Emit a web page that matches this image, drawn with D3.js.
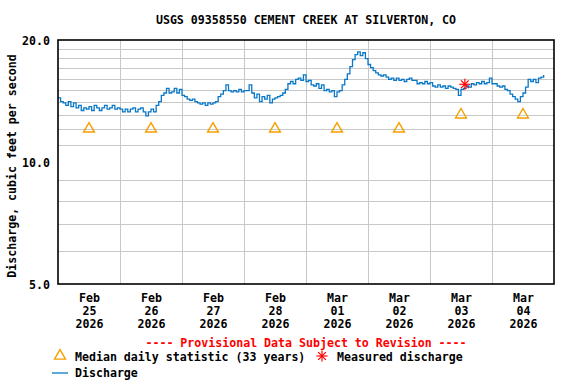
<!DOCTYPE html>
<html>
<head>
<meta charset="utf-8">
<title>USGS 09358550</title>
<style>
  body { margin: 0; background: #fff; }
  svg text { font-family: "DejaVu Sans Mono", monospace; font-weight: bold; font-size: 11.6px; fill: #000; }
  .grid line { stroke: #c8c8c8; stroke-width: 1; shape-rendering: crispEdges; }
</style>
</head>
<body>
<script src="https://cdn.jsdelivr.net/npm/d3@7"></script>
<script>
// DATA
var title = "USGS 09358550 CEMENT CREEK AT SILVERTON, CO";
var startDay = new Date(2026, 1, 25);
var endDay = new Date(2026, 2, 5);
var dayLabels = [["Feb", "25", "2026"], ["Feb", "26", "2026"], ["Feb", "27", "2026"], ["Feb", "28", "2026"],
                 ["Mar", "01", "2026"], ["Mar", "02", "2026"], ["Mar", "03", "2026"], ["Mar", "04", "2026"]];
var yTickValues = [5, 10, 20];
var yGridValues = [6, 7, 8, 9, 11, 12, 13, 14, 15, 16, 17, 18, 19];

// hourly discharge (cfs) starting Feb 25 00:00
var discharge = [
  14.4, 14.1, 14.0, 13.8, 14.1, 13.7, 14.0, 13.6, 13.8, 13.4, 13.6, 13.5,
  13.7, 13.4, 13.8, 13.6, 13.4, 13.6, 13.8, 13.5, 13.6, 13.8, 13.5, 13.6,
  13.5, 13.3, 13.5, 13.3, 13.5, 13.6, 13.3, 13.5, 13.6, 13.3, 13.0, 13.3,
  13.5, 13.3, 13.8, 14.1, 14.6, 14.8, 15.2, 14.8, 14.9, 15.2, 14.8, 15.1,
  14.6, 14.5, 14.3, 14.2, 14.3, 14.1, 14.0, 13.9, 14.0, 13.8, 14.0, 13.9,
  14.0, 14.1, 14.5, 14.7, 15.0, 15.5, 15.0, 14.9, 15.0, 14.9, 15.1, 14.9,
  15.0, 15.0, 15.5, 14.8, 14.4, 14.7, 14.1, 14.5, 14.3, 14.6, 14.0, 14.3,
  14.4, 14.5, 14.6, 14.8, 15.1, 15.6, 15.8, 15.6, 16.0, 16.1, 15.9, 16.4,
  15.8, 15.9, 15.5, 15.4, 15.6, 15.2, 15.5, 15.0, 15.1, 14.9, 15.0, 14.5,
  14.9, 15.0, 15.5, 16.0, 16.5, 17.2, 17.9, 18.4, 18.7, 18.3, 18.6, 18.0,
  17.4, 17.1, 16.8, 16.6, 16.4, 16.3, 16.4, 16.2, 16.0, 16.1, 15.9, 16.1,
  15.9, 16.0, 15.8, 16.0, 16.1, 15.9, 15.9, 15.6, 15.7, 15.6, 15.8, 15.6,
  15.7, 15.4, 15.3, 15.5, 15.3, 15.4, 15.2, 15.4, 15.3, 15.2, 15.1, 14.6,
  15.1, 15.2, 15.4, 15.3, 15.6, 15.5, 15.7, 15.6, 15.8, 15.6, 15.7, 16.1,
  15.6, 15.6, 15.4, 15.3, 15.4, 15.1, 15.0, 14.7, 14.5, 14.3, 14.1, 14.5,
  14.8, 15.3, 16.0, 15.8, 16.0, 15.7, 16.1, 16.2, 16.4
];
var medianValues = [12, 12, 12, 12, 12, 12, 13, 13];
var measuredTime = new Date(2026, 2, 3, 13, 30);
var measuredValue = 15.55;

var W = 576, H = 384;
var plot = {left: 58, right: 554, top: 40, bottom: 284};
var midX = (plot.left + plot.right) / 2;

var svg = d3.select("body").append("svg")
  .attr("width", W)
  .attr("height", H);

var x = d3.scaleTime().domain([startDay, endDay]).range([plot.left, plot.right]);
var y = d3.scaleLog().domain([5, 20]).range([plot.bottom, plot.top]);

var days = d3.timeDay.range(startDay, endDay);
var noons = days.map(function(d) { return d3.timeHour.offset(d, 12); });

// gridlines
var grid = svg.append("g").attr("class", "grid");
grid.selectAll("line.v")
  .data(d3.timeDay.range(d3.timeDay.offset(startDay, 1), endDay))
  .enter().append("line")
  .attr("x1", function(d) { return x(d); })
  .attr("x2", function(d) { return x(d); })
  .attr("y1", plot.top).attr("y2", plot.bottom);
grid.selectAll("line.h")
  .data(yGridValues)
  .enter().append("line")
  .attr("x1", plot.left).attr("x2", plot.right)
  .attr("y1", function(d) { return y(d); })
  .attr("y2", function(d) { return y(d); });

// y axis labels
var yAxis = d3.axisLeft(y).tickValues(yTickValues).tickFormat(d3.format(".1f")).tickSize(0).tickPadding(8);
svg.append("g")
  .attr("transform", "translate(" + plot.left + ",0)")
  .call(yAxis)
  .call(function(g) { g.select(".domain").remove(); })
  .selectAll("text")
  .attr("dy", "0.35em")
  .style("font-size", "11.6px");

// x axis labels (three lines under each day)
var xAxis = d3.axisBottom(x).tickValues(noons).tickSize(0).tickFormat("");
var xg = svg.append("g")
  .attr("transform", "translate(0," + plot.bottom + ")")
  .call(xAxis);
xg.select(".domain").remove();
xg.selectAll(".tick").each(function(d, i) {
  var t = d3.select(this).append("text").attr("text-anchor", "middle").attr("y", 18);
  dayLabels[i].forEach(function(s, j) {
    t.append("tspan").attr("x", 0).attr("dy", j === 0 ? 0 : 13).text(s);
  });
});

// discharge line
var hourly = discharge.map(function(v, i) { return {t: d3.timeHour.offset(startDay, i), v: v}; });
var line = d3.line()
  .x(function(d) { return x(d.t); })
  .y(function(d) { return y(d.v); })
  .curve(d3.curveStepAfter);
svg.append("path")
  .datum(hourly)
  .attr("fill", "none")
  .attr("stroke", "#0a78c8")
  .attr("stroke-width", 1.3)
  .attr("d", line);

// median triangles
var tri = d3.symbol().type(d3.symbolTriangle).size(52);
svg.selectAll("path.median")
  .data(medianValues)
  .enter().append("path")
  .attr("class", "median")
  .attr("d", tri)
  .attr("transform", function(d, i) { return "translate(" + x(noons[i]) + "," + (y(d) - 1) + ")"; })
  .attr("fill", "none")
  .attr("stroke", "#f5a000")
  .attr("stroke-width", 1.4);

// measured discharge asterisk
function asterisk(g, cx, cy, r) {
  for (var k = 0; k < 4; k++) {
    var a = k * Math.PI / 4;
    g.append("line")
      .attr("x1", cx - r * Math.cos(a)).attr("y1", cy - r * Math.sin(a))
      .attr("x2", cx + r * Math.cos(a)).attr("y2", cy + r * Math.sin(a))
      .attr("stroke", "#ff0000").attr("stroke-width", 1.2);
  }
}
asterisk(svg.append("g"), x(measuredTime), y(measuredValue), 5.5);

// plot frame
svg.append("rect")
  .attr("x", plot.left).attr("y", plot.top)
  .attr("width", plot.right - plot.left).attr("height", plot.bottom - plot.top)
  .attr("fill", "none").attr("stroke", "#000").attr("stroke-width", 1.6);

// title
svg.append("text")
  .attr("x", midX).attr("y", 24)
  .attr("text-anchor", "middle")
  .text(title);

// y axis title
svg.append("text")
  .attr("transform", "translate(16,166) rotate(-90)")
  .attr("text-anchor", "middle")
  .text("Discharge, cubic feet per second");

// provisional note
svg.append("text")
  .attr("x", midX).attr("y", 347)
  .attr("text-anchor", "middle")
  .style("fill", "#ff0000")
  .text("---- Provisional Data Subject to Revision ----");

// legend
var lg = svg.append("g");
lg.append("path")
  .attr("d", tri)
  .attr("transform", "translate(60,356)")
  .attr("fill", "none").attr("stroke", "#f5a000").attr("stroke-width", 1.4);
lg.append("text").attr("x", 75).attr("y", 361).text("Median daily statistic (33 years)");
asterisk(lg, 322, 356, 5.5);
lg.append("text").attr("x", 337).attr("y", 361).text("Measured discharge");
lg.append("line")
  .attr("x1", 52).attr("x2", 68).attr("y1", 373).attr("y2", 373)
  .attr("stroke", "#0a78c8").attr("stroke-width", 1.3);
lg.append("text").attr("x", 75).attr("y", 377).text("Discharge");
</script>
</body>
</html>
